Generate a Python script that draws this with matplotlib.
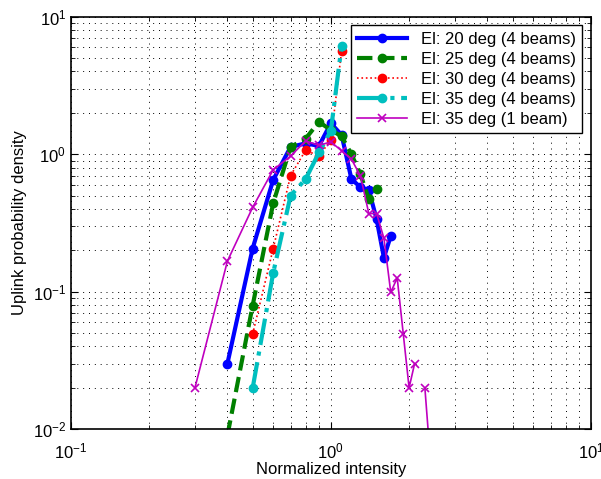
import numpy as np
import matplotlib
matplotlib.use("Agg")
import matplotlib.pyplot as plt

plt.rcParams['font.family'] = ['Liberation Sans', 'DejaVu Sans']

# data (normalized intensity bins)
x_20 = [0.4, 0.5, 0.6, 0.7, 0.8, 0.9, 1.0, 1.1, 1.2, 1.3, 1.4, 1.5, 1.6, 1.7]
y_20 = [0.030, 0.206, 0.65, 1.13, 1.2, 1.15, 1.68, 1.38, 0.66, 0.575, 0.55, 0.336, 0.177, 0.254]

x_25 = [0.4, 0.5, 0.6, 0.7, 0.8, 0.9, 1.0, 1.1, 1.2, 1.3, 1.4, 1.5]
y_25 = [0.009, 0.079, 0.44, 1.13, 1.3, 1.72, 1.5, 1.35, 1.0, 0.715, 0.47, 0.556]

x_30 = [0.5, 0.6, 0.7, 0.8, 0.9, 1.0, 1.1]
y_30 = [0.049, 0.206, 0.70, 1.07, 0.97, 1.27, 5.65]

x_35 = [0.5, 0.6, 0.7, 0.8, 0.9, 1.0, 1.1]
y_35 = [0.0198, 0.137, 0.50, 0.66, 1.03, 1.48, 6.16]

x_35b = [0.3, 0.4, 0.5, 0.6, 0.7, 0.8, 0.9, 1.0, 1.1, 1.2, 1.3, 1.4, 1.5,
         1.6, 1.7, 1.8, 1.9, 2.0, 2.1, 2.2, 2.3, 2.4]
y_35b = [0.020, 0.167, 0.41, 0.77, 0.97, 1.25, 1.16, 1.23, 1.06, 0.92, 0.695, 0.37, 0.37,
         0.245, 0.099, 0.126, 0.049, 0.020, 0.030, np.nan, 0.020, 0.007]

labels = ['El: 20 deg (4 beams)', 'El: 25 deg (4 beams)', 'El: 30 deg (4 beams)',
          'El: 35 deg (4 beams)', 'El: 35 deg (1 beam)']

fig = plt.figure(figsize=(6.01, 4.79), dpi=100)
ax = fig.add_axes([0.118, 0.104, 0.865, 0.861])

ax.loglog(x_20, y_20, '-o', color=(0, 0, 1), lw=3, ms=6, label=labels[0])
ax.loglog(x_25, y_25, '--o', color=(0, 0.5, 0), lw=3, ms=6, label=labels[1])
ax.loglog(x_30, y_30, ':o', color=(1, 0, 0), lw=1.2, ms=6, label=labels[2])
ax.loglog(x_35, y_35, '-.o', color=(0, 0.75, 0.75), lw=3, ms=6, label=labels[3])
ax.loglog(x_35b, y_35b, '-x', color=(0.75, 0, 0.75), lw=1.2, ms=6, mew=1.2, label=labels[4])

ax.set_xlim(0.1, 10)
ax.set_ylim(0.01, 10)
ax.grid(True, which='both', ls=(0, (1, 5)), color='k', lw=0.7)
ax.tick_params(which='both', direction='in', top=True, right=True, labelsize=12)
ax.tick_params(axis='x', which='major', pad=9)
ax.tick_params(which='major', length=5)
ax.tick_params(which='minor', length=3)
for s in ax.spines.values():
    s.set_linewidth(1.2)

ax.set_xlabel('Normalized intensity', fontsize=12, labelpad=0)
ax.set_ylabel('Uplink probability density', fontsize=12)

leg = ax.legend(loc='upper right', fontsize=12, fancybox=False, framealpha=1,
                edgecolor='k', handlelength=3, borderaxespad=0.5, labelspacing=0.3)
leg.get_frame().set_linewidth(1.0)

fig.savefig('out.png', dpi=100)
